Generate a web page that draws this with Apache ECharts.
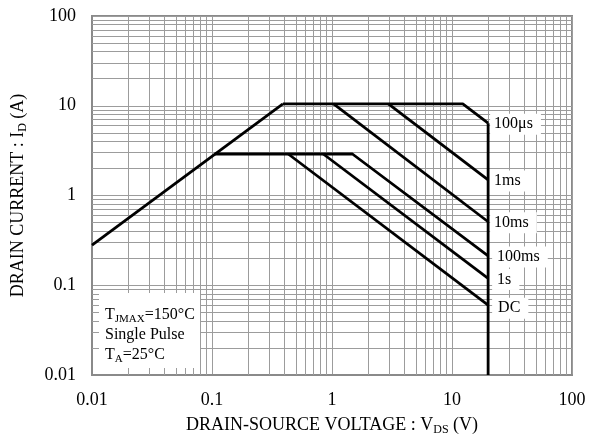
<!DOCTYPE html>
<html><head><meta charset="utf-8">
<script src="https://cdn.jsdelivr.net/npm/echarts@6/dist/echarts.min.js"></script>
<style>html,body{margin:0;padding:0;background:#fff}#c{width:600px;height:437px}</style>
</head><body><div id="c"></div>
<script>
const xTickLabels = ['0.01', '0.1', '1', '10', '100'];
const yTickLabels = ['0.01', '0.1', '1', '10', '100'];
const minorMultipliers = [2, 3, 4, 5, 6, 7, 8, 9];
const decades = [0.01, 0.1, 1, 10];

// Safe-operating-area boundaries (V, A)
const ronLimit = [[0.01, 0.28], [0.39, 10.5]];
const line100us = [[0.39, 10.5], [12.3, 10.5], [20, 6.4]];
const line1ms = [[2.95, 10.5], [20, 1.49]];
const line10ms = [[1.03, 10.5], [20, 0.51]];
const line100ms = [[0.105, 2.9], [1.48, 2.9], [20, 0.212]];
const line1s = [[0.846, 2.9], [20, 0.119]];
const lineDC = [[0.432, 2.9], [20, 0.06]];
const vdsLimit = [[20, 6.4], [20, 0.01]];

const FONT = 'Liberation Serif';
const chart = echarts.init(document.getElementById('c'), null, {renderer: 'canvas'});

const minorVals = [];
decades.forEach(d => minorMultipliers.forEach(m => minorVals.push(+(d * m).toPrecision(3))));
const gridStyle = {color: '#9c9c9c', width: 1, type: 'solid'};

function seg(name, data, lbl, off, padL) {
  return {
    name: name, type: 'line', data: data, z: 5,
    symbol: 'none', animation: false,
    lineStyle: {color: '#000', width: 2.8},
    endLabel: lbl ? {
      show: true, formatter: lbl, color: '#000', fontFamily: FONT, fontSize: 16,
      backgroundColor: '#fff', padding: [3, 8, 2, padL || 4], distance: 2,
      offset: off || [0, 0]
    } : {show: false}
  };
}

const nameRich = {
  n: {fontFamily: FONT, fontSize: 18, color: '#000', lineHeight: 22},
  s: {fontFamily: FONT, fontSize: 12, color: '#000', lineHeight: 12, verticalAlign: 'bottom'}
};

chart.setOption({
  animation: false,
  grid: {left: 92, right: 28, top: 16, bottom: 62, show: true, borderColor: '#8a8a8a', borderWidth: 2,
    backgroundColor: 'transparent', containLabel: false, outerBoundsMode: 'none'},
  xAxis: {
    type: 'log', logBase: 10, min: 0.01, max: 100,
    name: '{n|DRAIN-SOURCE VOLTAGE : V}{s|DS}{n| (V)}',
    nameLocation: 'middle', nameGap: 39,
    nameTextStyle: {rich: nameRich},
    axisLine: {show: true, lineStyle: {color: '#8a8a8a', width: 2}},
    axisTick: {show: false},
    axisLabel: {fontFamily: FONT, fontSize: 18, color: '#000', margin: 16,
      formatter: (v, i) => xTickLabels[i]},
    splitLine: {show: true, lineStyle: gridStyle}
  },
  yAxis: {
    type: 'log', logBase: 10, min: 0.01, max: 100,
    name: '{n|DRAIN CURRENT : I}{s|D}{n| (A)}',
    nameLocation: 'middle', nameGap: 63,
    nameTextStyle: {rich: nameRich},
    axisLine: {show: true, lineStyle: {color: '#8a8a8a', width: 2}},
    axisTick: {show: false},
    axisLabel: {fontFamily: FONT, fontSize: 18, color: '#000', margin: 16,
      formatter: (v, i) => yTickLabels[i]},
    splitLine: {show: true, lineStyle: gridStyle}
  },
  graphic: [
    {type: 'rect', z: 50, shape: {x: 99, y: 293, width: 101, height: 75}, style: {fill: '#fff'}},
    {type: 'text', z: 51, left: 105, top: 307, style: {
      text: '{n|T}{s|JMAX}{n|=150°C}\n{n|Single Pulse}\n{n|T}{s|A}{n|=25°C}',
      rich: {n: {fontFamily: FONT, fontSize: 16, fill: '#000', lineHeight: 20},
             s: {fontFamily: FONT, fontSize: 11, fill: '#000', lineHeight: 11, verticalAlign: 'bottom'}}
    }}
  ],
  series: [
    {type: 'line', data: [], z: 1, silent: true,
      markLine: {silent: true, symbol: 'none', animation: false, label: {show: false},
        lineStyle: gridStyle,
        data: minorVals.map(v => ({xAxis: v})).concat(minorVals.map(v => ({yAxis: v})))}},
    seg('ron', ronLimit),
    seg('100us', line100us, '100μs', [0, 1]),
    seg('1ms', line1ms, '1ms', [0, 1]),
    seg('10ms', line10ms, '10ms', [0, 1]),
    seg('100ms', line100ms, '100ms', [2, 1], 5),
    seg('1s', line1s, '1s', [2, 1], 5),
    seg('DC', lineDC, 'DC', [2, 3], 6),
    seg('vds', vdsLimit)
  ]
});
</script></body></html>
